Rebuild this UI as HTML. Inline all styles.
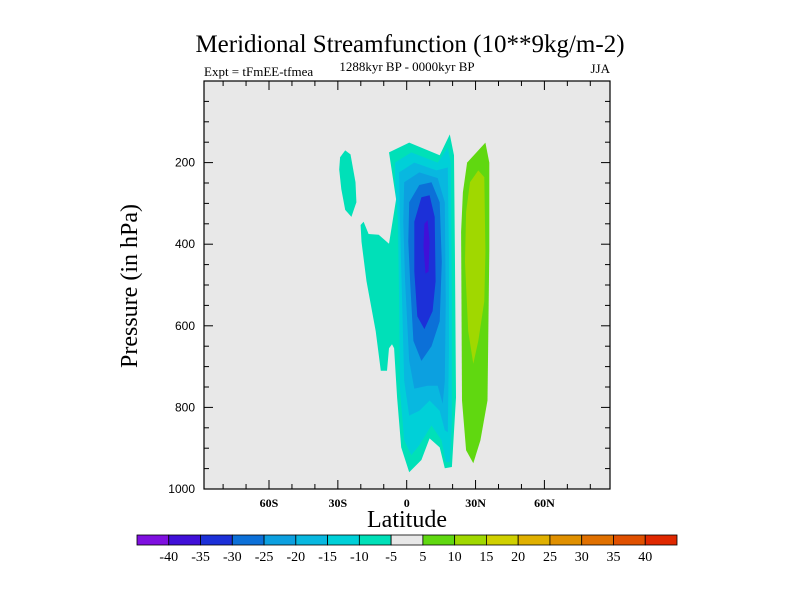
<!DOCTYPE html>
<html><head><meta charset="utf-8"><style>
html,body{margin:0;padding:0;background:#fff;width:800px;height:600px;overflow:hidden}
svg{display:block;font-family:"Liberation Serif",serif}
</style></head><body>
<svg id="chart" width="800" height="600" viewBox="0 0 800 600">
<text x="410" y="52" text-anchor="middle" font-size="25">Meridional Streamfunction (10**9kg/m-2)</text>
<text x="204" y="76" font-size="13">Expt = tFmEE-tfmea</text>
<text x="407" y="71" text-anchor="middle" font-size="13">1288kyr BP - 0000kyr BP</text>
<text x="610" y="73" text-anchor="end" font-size="13">JJA</text>
<text transform="translate(137,286) rotate(-90)" text-anchor="middle" font-size="24">Pressure (in hPa)</text>
<text x="407" y="527" text-anchor="middle" font-size="24">Latitude</text>
<rect x="204" y="81" width="406" height="408" fill="#e8e8e8"/>
<g id="contours"></g>
<g id="axes"></g>
<g id="colorbar"></g>
</svg>
<script>
const NS="http://www.w3.org/2000/svg";
const levelColors=["#7f10e0","#4010d8","#1c30d8","#0c70d8","#0ca0e0","#08b8e0","#00d0d8","#00e0b8","#e8e8e8","#60d810","#a0d800","#d0d000","#e0b000","#e09000","#e07000","#e05000","#e02800"];
const levelLabels=["-40","-35","-30","-25","-20","-15","-10","-5","5","10","15","20","25","30","35","40"];
const xTickValues=[-60,-30,0,30,60];
const xTickLabels=["60S","30S","0","30N","60N"];
const yTickValues=[200,400,600,800,1000];
// contour regions: [lat, pressure] in data units, fill level index
const regionLevels=[7,7,6,5,4,3,2,1,9,10];
const regionOuter=[[-7.7,175],[1.1,151],[14.4,182],[18.8,131],[20.6,182],[21.0,418],[21.5,776],[19.7,946],[16.6,949],[14.4,898],[10.0,876],[6.4,929],[1.1,959],[-2.4,898],[-4.2,776],[-5.5,655],[-6.4,645],[-7.7,655],[-8.6,710],[-11.3,710],[-13.5,613],[-17.5,491],[-19.7,394],[-20.1,353],[-18.8,345],[-16.6,375],[-12.2,377],[-7.7,399],[-4.6,290]];
const regionBlob=[[-29.0,187],[-26.8,170],[-24.5,180],[-22.3,248],[-21.9,297],[-24.1,333],[-26.8,316],[-28.5,265],[-29.4,217]];
const regionM15=[[-5.1,200],[2.0,175],[13.5,200],[17.9,163],[19.2,200],[19.7,540],[19.7,832],[18.8,934],[17.0,934],[15.2,881],[10.8,844],[5.5,893],[2.0,917],[-1.1,881],[-2.9,759],[-3.3,540],[-3.8,345],[-5.1,248]];
const regionM20=[[-3.3,224],[3.3,200],[13.0,219],[17.9,212],[18.4,418],[18.4,662],[17.9,861],[16.6,856],[14.4,808],[10.0,783],[5.5,808],[1.1,820],[-1.1,735],[-2.0,540],[-2.9,345]];
const regionM25=[[-1.1,248],[5.5,224],[13.5,238],[16.6,297],[17.0,540],[16.6,735],[15.7,791],[13.5,747],[9.1,747],[3.3,754],[1.1,686],[-0.7,491],[-1.5,345]];
const regionM30=[[1.1,297],[5.5,255],[10.8,248],[14.4,297],[15.3,443],[14.4,589],[10.8,650],[6.4,686],[2.9,637],[1.5,491],[0.7,394]];
const regionM35=[[3.3,345],[6.4,285],[10.0,280],[12.2,333],[12.6,491],[11.3,564],[7.7,608],[4.6,577],[3.3,467]];
const regionM40=[[7.7,350],[9.1,341],[10.0,394],[9.5,467],[8.2,472],[7.3,406]];
const regionP10=[[26.3,200],[34.3,151],[36.0,200],[36.0,418],[35.2,783],[32.1,881],[29.0,937],[25.9,905],[24.1,783],[23.7,370],[24.5,273]];
const regionP15=[[27.6,248],[31.2,219],[33.8,236],[34.3,418],[33.8,540],[31.2,637],[29.0,693],[26.8,613],[25.4,443],[25.9,321]];
const regions=[regionOuter,regionBlob,regionM15,regionM20,regionM25,regionM30,regionM35,regionM40,regionP10,regionP15];
const regionNames=["contour-minus10-main","contour-minus10-blob","contour-minus15","contour-minus20","contour-minus25","contour-minus30","contour-minus35","contour-minus40","contour-plus5","contour-plus10"];

const X0=204,X1=610,Y0=81,Y1=489;
function xs(lat){return 406.7+lat*2.295;}
function ys(p){return Y0+p*(Y1-Y0)/1000;}
function mk(tag,attrs,parent){const e=document.createElementNS(NS,tag);for(const k in attrs)e.setAttribute(k,attrs[k]);parent.appendChild(e);return e;}

const cg=document.getElementById("contours");
regions.forEach((r,i)=>{
  const pts=r.map(d=>xs(d[0]).toFixed(1)+","+ys(d[1]).toFixed(1)).join(" ");
  const p=mk("polygon",{points:pts,fill:levelColors[regionLevels[i]]},cg);
  
  
});

const ag=document.getElementById("axes");
mk("rect",{x:X0,y:Y0,width:X1-X0,height:Y1-Y0,fill:"none",stroke:"#000","stroke-width":1.2},ag);
// x ticks every 10 deg
for(let lat=-80;lat<=80;lat+=10){
  const x=xs(lat),major=(lat%30===0)?9:5;
  mk("line",{x1:x,x2:x,y1:Y1,y2:Y1-major,stroke:"#000","stroke-width":1},ag);
  mk("line",{x1:x,x2:x,y1:Y0,y2:Y0+major,stroke:"#000","stroke-width":1},ag);
}
xTickValues.forEach((v,i)=>{
  const t=mk("text",{x:xs(v),y:Y1+18,"text-anchor":"middle","font-size":12,"font-weight":"bold"},ag);
  t.textContent=xTickLabels[i];
  
  
});
for(let p=50;p<1000;p+=50){
  const y=ys(p),len=(p%200===0)?9:5;
  mk("line",{x1:X0,x2:X0+len,y1:y,y2:y,stroke:"#000","stroke-width":1},ag);
  mk("line",{x1:X1,x2:X1-len,y1:y,y2:y,stroke:"#000","stroke-width":1},ag);
}
yTickValues.forEach(v=>{
  const t=mk("text",{x:X0-9,y:ys(v)+4,"text-anchor":"end","font-size":12,"font-family":"Liberation Sans, sans-serif"},ag);
  t.textContent=String(v);
  
  
});

const cb=document.getElementById("colorbar");
const cbX=137,cbW=540,cbY=535,cbH=10,bw=cbW/levelColors.length;
levelColors.forEach((c,i)=>{
  const r=mk("rect",{x:cbX+i*bw,y:cbY,width:bw,height:cbH,fill:c,stroke:"#000","stroke-width":0.8},cb);
  
  
});
levelLabels.forEach((l,i)=>{
  const t=mk("text",{x:cbX+(i+1)*bw,y:cbY+26,"text-anchor":"middle","font-size":14},cb);
  t.textContent=l;
  
  
});
</script>
</body></html>
